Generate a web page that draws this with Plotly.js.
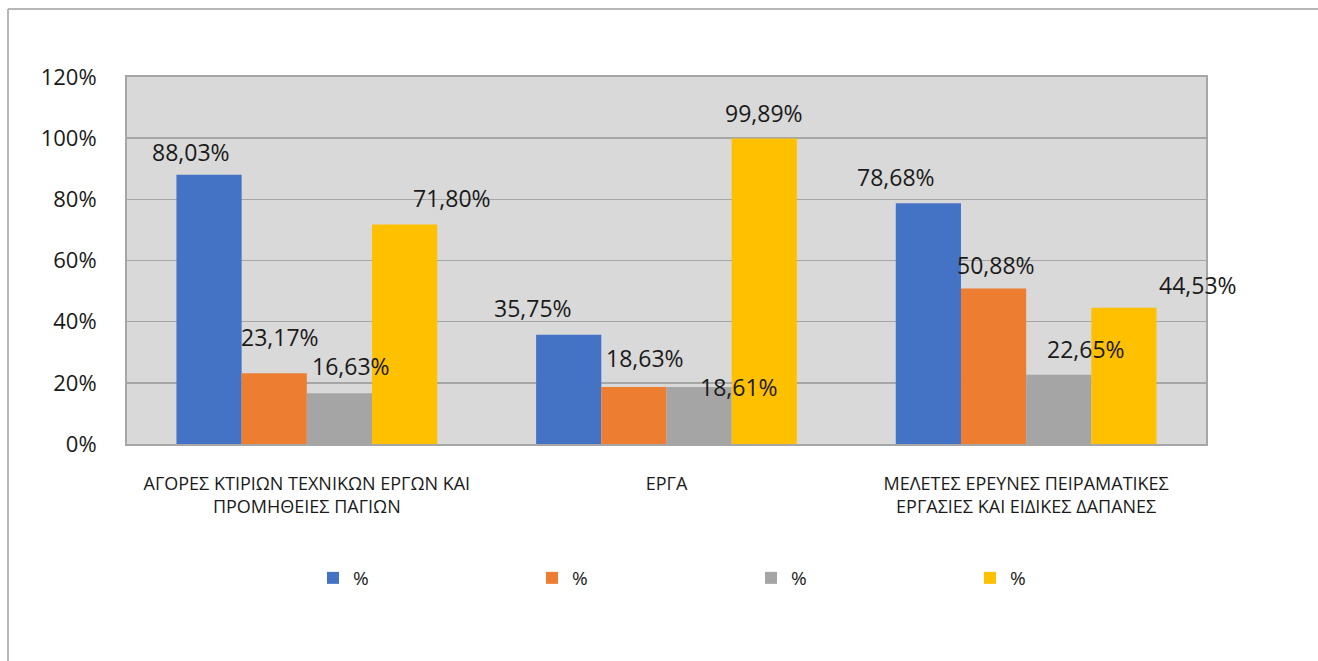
<!DOCTYPE html>
<html>
<head>
<meta charset="utf-8">
<script src="https://cdn.plot.ly/plotly-3.0.1.min.js"></script>
<style>
  html, body { margin: 0; padding: 0; background: #ffffff; }
  #chart { width: 1318px; height: 661px; }
</style>
</head>
<body>
<div id="chart"></div>
<script>
// ---- data ----
const categories = [
  "ΑΓΟΡΕΣ ΚΤΙΡΙΩΝ ΤΕΧΝΙΚΩΝ ΕΡΓΩΝ ΚΑΙ<br>ΠΡΟΜΗΘΕΙΕΣ ΠΑΓΙΩΝ",
  "ΕΡΓΑ",
  "ΜΕΛΕΤΕΣ ΕΡΕΥΝΕΣ ΠΕΙΡΑΜΑΤΙΚΕΣ<br>ΕΡΓΑΣΙΕΣ ΚΑΙ ΕΙΔΙΚΕΣ ΔΑΠΑΝΕΣ"
];
const seriesNames = ["%", "%", "%", "%"];
const series1 = [88.03, 35.75, 78.68];
const series2 = [23.17, 18.63, 50.88];
const series3 = [16.63, 18.61, 22.65];
const series4 = [71.80, 99.89, 44.53];
const yTickValues = [0, 20, 40, 60, 80, 100, 120];

// ---- styling (not data) ----
const colors = ["#4472c4", "#ed7d31", "#a5a5a5", "#ffc000"];
// manual nudges of data labels (px) relative to each bar top-centre
const labelDx = [[-18.5, -35.5, -32.5], [5.5, 11.5, 2], [12, 40, 27.5], [47.5, 0, 74]];
const labelDy = [[23, 27, 26], [36, 29, 23], [27, 0, 26], [26, 26, 23]];

const allSeries = [series1, series2, series3, series4];
const W = 1318, H = 661;
const margin = { l: 127, r: 112, t: 77, b: 217 };
const plotW = W - margin.l - margin.r;
const plotH = H - margin.t - margin.b;
const bargap = 0.275;
const slot = plotW / categories.length * (1 - bargap) / allSeries.length;

const FONT = "Open Sans, Noto Sans, sans-serif";
const txtColor = "#1a1a1a";

const traces = allSeries.map((vals, i) => ({
  type: "bar",
  name: seriesNames[i],
  x: categories,
  y: vals,
  marker: { color: colors[i], line: { width: 0 } },
  hoverinfo: "x+y"
}));

const fmt = v => v.toFixed(2).replace(".", ",") + "%";
const annotations = [];
allSeries.forEach((vals, i) => {
  vals.forEach((v, j) => {
    annotations.push({
      xref: "x", yref: "y",
      x: categories[j], y: v,
      text: fmt(v),
      showarrow: false,
      xanchor: "center", yanchor: "middle",
      xshift: (i - (allSeries.length - 1) / 2) * slot + labelDx[i][j],
      yshift: labelDy[i][j],
      font: { family: FONT, size: 23, color: txtColor }
    });
  });
});

const px2x = p => (p - margin.l) / plotW;
const py2y = p => (H - margin.b - p) / plotH;

const shapes = [
  { type: "line", xref: "paper", yref: "paper", x0: px2x(8), x1: px2x(8), y0: py2y(9), y1: py2y(H + 5),
    line: { color: "#a0a0a0", width: 1.5 } },
  { type: "line", xref: "paper", yref: "paper", x0: px2x(8), x1: px2x(W + 5), y0: py2y(9), y1: py2y(9),
    line: { color: "#a0a0a0", width: 1.5 } }
];

const layout = {
  width: W, height: H,
  margin: margin,
  paper_bgcolor: "#ffffff",
  plot_bgcolor: "#d9d9d9",
  barmode: "group",
  bargap: bargap,
  bargroupgap: 0,
  font: { family: FONT, size: 22, color: txtColor },
  showlegend: true,
  legend: {
    orientation: "h",
    x: px2x(313), xanchor: "left",
    y: py2y(578), yanchor: "middle",
    entrywidth: 174, entrywidthmode: "pixels",
    font: { family: FONT, size: 19, color: txtColor },
    bgcolor: "rgba(0,0,0,0)",
    traceorder: "normal"
  },
  xaxis: {
    type: "category",
    range: [-0.5, categories.length - 0.5],
    autorange: false,
    showgrid: false,
    showline: true, linecolor: "#a6a6a6", linewidth: 2, mirror: true,
    ticks: "",
    ticklabelstandoff: 22,
    tickfont: { family: FONT, size: 18, color: txtColor },
    fixedrange: true
  },
  yaxis: {
    range: [0, 120],
    autorange: false,
    tickvals: yTickValues,
    ticktext: yTickValues.map(v => v + "%"),
    showgrid: true, gridcolor: "#a6a6a6", gridwidth: 1.5,
    showline: true, linecolor: "#a6a6a6", linewidth: 2, mirror: true,
    zeroline: false,
    ticks: "",
    ticklabelstandoff: 24,
    tickfont: { family: FONT, size: 22, color: txtColor },
    fixedrange: true
  },
  annotations: annotations,
  shapes: shapes
};

Plotly.newPlot("chart", traces, layout, { displayModeBar: false, staticPlot: true });
</script>
</body>
</html>
